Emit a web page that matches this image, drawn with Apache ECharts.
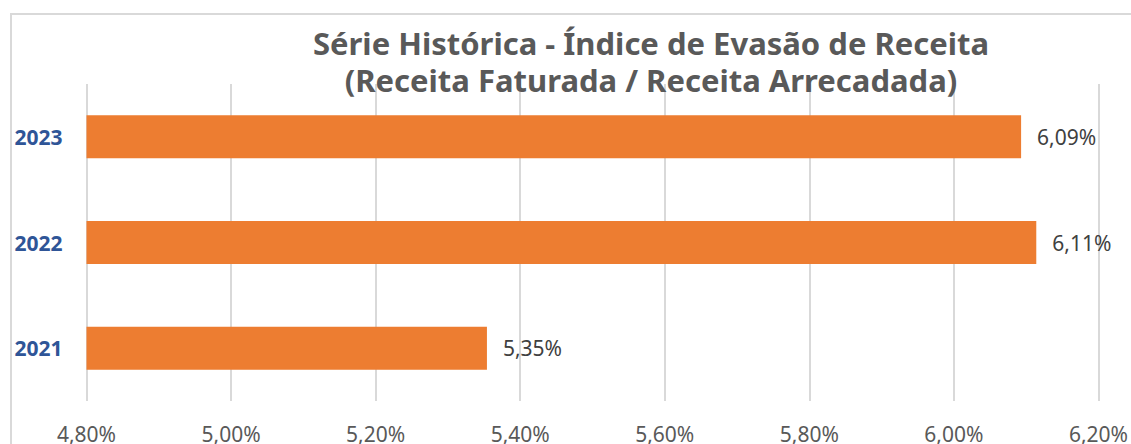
<!DOCTYPE html>
<html>
<head>
<meta charset="utf-8">
<script src="https://cdn.jsdelivr.net/npm/echarts@6/dist/echarts.min.js"></script>
<style>
html,body{margin:0;padding:0;background:#fff;}
#chart{width:1131px;height:444px;}
</style>
</head>
<body>
<div id="chart"></div>
<script>
const titleText = 'Série Histórica - Índice de Evasão de Receita\n(Receita Faturada / Receita Arrecadada)';
const categories = ['2021', '2022', '2023'];
const values = [5.354, 6.114, 6.093];
const axisMin = 4.8;
const axisMax = 6.2;
const axisStep = 0.2;

function pct(v) { return v.toFixed(2).replace('.', ',') + '%'; }

const chart = echarts.init(document.getElementById('chart'), null, { renderer: 'svg' });
chart.setOption({
  backgroundColor: '#ffffff',
  animation: false,
  graphic: [{
    type: 'rect',
    shape: { x: 11, y: 14, width: 1200, height: 600 },
    style: { fill: 'none', stroke: '#d9d9d9', lineWidth: 2 },
    silent: true, z: -1
  }],
  title: {
    text: titleText,
    left: 646,
    top: 19,
    textAlign: 'center',
    textStyle: {
      fontFamily: 'Noto Sans',
      fontWeight: 'bold',
      fontSize: 31,
      lineHeight: 37,
      color: '#595959'
    }
  },
  grid: { left: 86.5, right: 32, top: 84, bottom: 41, containLabel: false },
  xAxis: {
    type: 'value',
    min: axisMin, max: axisMax, interval: axisStep,
    axisLine: { show: false },
    axisTick: { show: false },
    splitLine: { show: true, lineStyle: { color: '#d9d9d9', width: 2 } },
    axisLabel: {
      formatter: pct,
      fontFamily: 'Noto Sans', fontSize: 21, color: '#595959', margin: 22
    }
  },
  yAxis: {
    type: 'category',
    data: categories,
    axisLine: { show: false },
    axisTick: { show: false },
    axisLabel: {
      fontFamily: 'Noto Sans', fontSize: 21, fontWeight: 'bold', color: '#2F5597',
      margin: 24
    }
  },
  series: [{
    type: 'bar',
    data: values,
    barWidth: 43,
    itemStyle: { color: '#ED7D31' },
    label: {
      show: true, position: 'right', distance: 16,
      formatter: p => pct(p.value),
      fontFamily: 'Noto Sans', fontSize: 21, color: '#404040'
    }
  }]
});
</script>
</body>
</html>
